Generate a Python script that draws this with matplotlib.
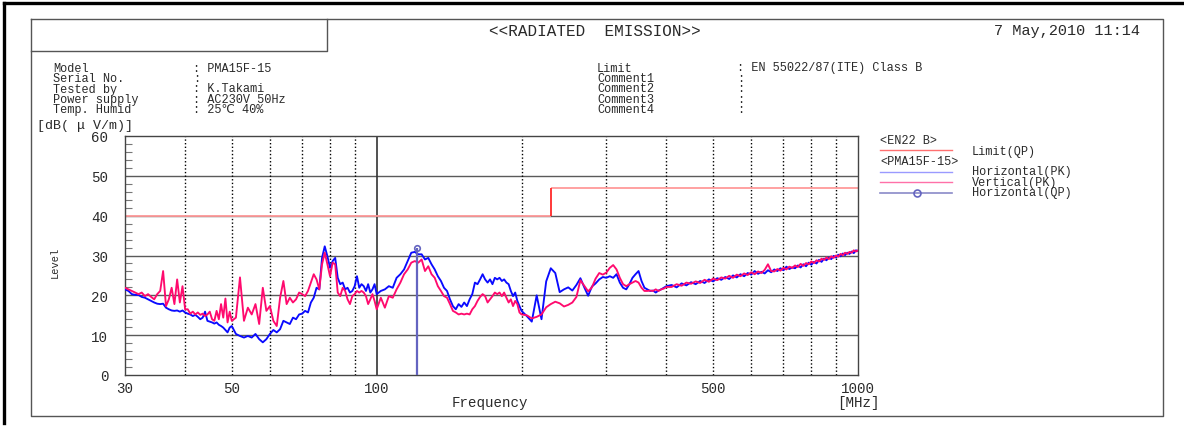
import matplotlib
matplotlib.use('Agg')
import matplotlib.pyplot as plt
from matplotlib.lines import Line2D
from matplotlib.ticker import FixedLocator, FixedFormatter, MultipleLocator, NullLocator

W, H = 1184, 427
plt.rcParams['font.family'] = ['Liberation Mono', 'DejaVu Sans Mono', 'DejaVu Sans']

# ---------------- data ----------------
freq_mhz = [30, 30.5, 31, 31.5, 32, 32.5, 33, 33.5, 34, 34.5, 35, 35.5, 36, 36.5, 37, 37.5,
            38, 38.5, 39, 39.5, 40, 40.5, 41, 41.5, 42, 42.5, 43, 43.5, 44, 44.5, 45, 45.5,
            46, 46.5, 47, 47.5, 48, 48.5, 49, 49.5, 50,
            51, 52, 53, 54, 55, 56, 57, 58, 59, 60, 61, 62, 63, 64, 65, 66, 67, 68, 69, 70,
            71, 72, 73, 74, 75, 76, 77, 78, 79, 80, 81, 82, 83, 84, 85, 86, 87, 88, 89, 90,
            91, 92, 93, 94, 95, 96, 97, 98, 99, 100,
            102, 104, 106, 108, 110, 112, 114, 116, 118, 120, 122, 124, 126, 128, 130,
            132, 134, 136, 138, 140, 142, 144, 146, 148, 150, 152, 154, 156, 158, 160,
            162, 164, 166, 168, 170, 172, 174, 176, 178, 180, 182, 184, 186, 188, 190,
            192, 194, 196, 198, 200,
            205, 210, 215, 220, 225, 230, 235, 240, 245, 250, 255, 260, 265, 270, 275,
            280, 285, 290, 295, 300, 305, 310, 315, 320, 325, 330, 335, 340, 345, 350,
            355, 360, 365, 370, 375, 380, 385, 390, 395, 400,
            410, 420, 430, 440, 450, 460, 470, 480, 490, 500, 510, 520, 530, 540, 550,
            560, 570, 580, 590, 600, 610, 620, 630, 640, 650, 660, 670, 680, 690, 700,
            710, 720, 730, 740, 750, 760, 770, 780, 790, 800, 810, 820, 830, 840, 850,
            860, 870, 880, 890, 900, 910, 920, 930, 940, 950, 960, 970, 980, 990, 1000]

horizontal_pk = [21.5, 21.1, 20.3, 20.1, 20.1, 19.6, 19.4, 19.0, 18.6, 18.2, 17.9, 17.8, 17.9, 16.9, 16.5, 16.2,
                 16.1, 16.2, 15.9, 16.2, 15.7, 15.4, 15.2, 14.8, 15.1, 14.6, 14.0, 14.4, 15.9, 13.6, 13.4, 13.2,
                 12.9, 13.2, 12.6, 12.3, 11.9, 11.3, 10.7, 11.9, 12.3,
                 10.3, 9.8, 9.4, 9.8, 9.4, 10.3, 9.0, 8.2, 9.0, 10.3, 11.3, 10.7, 11.5, 13.6, 13.2, 12.8, 14.4, 14.0, 15.2, 15.4,
                 16.1, 15.7, 18.2, 19.4, 21.9, 21.5, 29.4, 32.3, 29.8, 26.9, 28.6, 29.4, 24.4, 22.8, 23.2, 21.5, 21.9, 20.7, 21.1, 22.3,
                 24.8, 21.9, 22.8, 22.3, 21.1, 22.8, 20.7, 21.5, 22.8, 20.3,
                 21.1, 21.5, 22.3, 21.9, 24.4, 25.3, 26.5, 28.6, 30.7, 30.9, 30.3, 30.3, 29.0, 29.4, 27.8,
                 26.5, 24.8, 23.6, 21.9, 21.1, 19.0, 17.3, 16.5, 17.8, 17.1, 18.2, 17.3, 19.0, 20.3, 23.2,
                 22.8, 24.0, 25.3, 24.0, 23.2, 24.0, 22.8, 24.4, 24.0, 24.4, 23.6, 24.0, 23.2, 22.8, 21.1,
                 19.8, 20.7, 18.6, 17.3, 16.1,
                 14.8, 13.4, 20.0, 14.0, 23.5, 26.8, 25.6, 20.8, 21.5, 22.0, 21.2, 22.6, 24.3, 22.0, 19.9,
                 22.2, 23.0, 24.0, 24.6, 24.4, 24.8, 24.4, 25.3, 23.2, 21.9, 21.5, 22.8, 24.4, 25.3, 26.1,
                 23.6, 21.9, 21.5, 21.1, 21.2, 20.7, 21.2, 21.5, 21.9, 22.3,
                 22.6, 22.0, 23.0, 22.5, 23.3, 22.8, 23.6, 23.1, 24.0, 23.5, 24.3, 23.9, 24.6, 24.1, 25.0,
                 24.5, 25.3, 24.8, 25.6, 25.2, 26.1, 25.4, 25.9, 25.5, 26.3, 25.8, 26.5, 26.1, 26.8, 26.3,
                 27.2, 26.6, 27.0, 26.8, 27.5, 27.0, 27.8, 27.3, 28.2, 27.7, 28.4, 28.0, 28.9, 28.4, 29.2,
                 28.8, 29.5, 29.1, 29.9, 29.5, 30.2, 29.8, 30.5, 30.1, 30.7, 30.4, 31.0, 30.6, 31.3, 31.1]

vertical_pk = [21.9, 21.5, 21.1, 20.7, 20.3, 20.7, 19.8, 20.3, 19.6, 19.0, 20.3, 21.1, 26.1, 17.3, 19.0, 21.9,
               17.8, 24.0, 18.2, 22.3, 16.5, 16.5, 15.4, 15.9, 15.2, 15.7, 15.1, 15.4, 14.8, 15.2, 15.9, 14.0,
               13.6, 16.1, 14.0, 17.8, 14.4, 19.2, 13.2, 15.9, 13.6,
               14.4, 24.5, 13.6, 16.9, 15.2, 17.8, 12.8, 21.9, 16.1, 17.3, 13.6, 12.3, 19.4, 23.6, 17.8, 19.4, 18.2, 19.0, 20.7, 20.3,
               19.8, 21.1, 23.2, 25.3, 24.0, 21.5, 27.8, 30.7, 27.8, 24.8, 28.2, 27.8, 20.7, 19.8, 21.9, 21.1, 19.0, 17.8, 19.8, 20.3,
               21.1, 20.7, 21.1, 20.7, 19.8, 17.8, 19.0, 20.3, 18.6, 16.5,
               19.4, 16.9, 19.8, 19.4, 21.5, 23.2, 25.3, 26.5, 28.2, 28.6, 28.2, 29.0, 26.1, 27.3, 25.3,
               24.4, 22.3, 21.1, 19.8, 19.4, 17.8, 16.1, 15.7, 15.2, 15.4, 15.2, 15.4, 15.2, 16.5, 17.3,
               18.6, 19.6, 20.3, 19.8, 18.2, 19.0, 19.8, 20.7, 20.3, 20.7, 19.8, 20.7, 19.4, 18.2, 19.0,
               17.3, 18.6, 17.8, 15.7, 15.2,
               15.0, 14.2, 14.6, 15.2, 17.0, 17.8, 18.4, 18.0, 17.2, 17.6, 18.2, 19.6, 23.8, 22.4, 21.0,
               22.0, 24.2, 25.6, 25.2, 25.7, 26.9, 27.6, 26.5, 24.4, 22.8, 22.3, 22.8, 23.2, 23.6, 23.2,
               21.9, 21.1, 21.1, 21.2, 21.1, 21.5, 21.1, 21.5, 21.7, 22.1,
               22.1, 22.8, 22.4, 23.2, 22.9, 23.5, 23.1, 23.9, 23.4, 24.2, 23.8, 24.5, 24.2, 24.9, 24.4,
               25.2, 24.8, 25.5, 25.1, 25.8, 25.3, 26.0, 25.6, 26.4, 27.8, 26.1, 26.0, 26.6, 26.2, 26.9,
               26.5, 27.2, 26.9, 27.5, 27.1, 27.9, 27.4, 28.1, 27.8, 28.5, 28.1, 28.8, 28.5, 29.2, 28.9,
               29.5, 29.1, 29.8, 29.4, 30.0, 29.7, 30.4, 30.1, 30.7, 30.4, 30.9, 30.7, 31.3, 31.0, 31.3]

qp_freq = [121]
qp_level = [31.8]

limit_freq = [30, 230, 1000]
limit_level = [40, 47]

x_ticks = [30, 50, 100, 500, 1000]
x_tick_labels = ['30', '50', '100', '500', '1000']
y_ticks = [0, 10, 20, 30, 40, 50, 60]
y_grid = [10, 20, 30, 40, 50]
x_grid_dotted = [40, 50, 60, 70, 80, 90, 200, 300, 400, 500, 600, 700, 800, 900]
x_grid_solid = [100]

info_left = [('Model', ': PMA15F-15'), ('Serial No.', ':'), ('Tested by', ': K.Takami'),
             ('Power supply', ': AC230V 50Hz'), ('Temp. Humid', ': 25℃ 40%')]
info_right = [('Limit', ': EN 55022/87(ITE) Class B'), ('Comment1', ':'), ('Comment2', ':'),
              ('Comment3', ':'), ('Comment4', ':')]

# ---------------- colours ----------------
C_BLUE = '#0a0aff'
C_PINK = '#ff0a6e'
C_LIMIT = '#ff9a9a'
C_LIMIT_STEP = '#ff2a2a'
C_QP = '#6464c0'
C_TXT = '#2a2a2a'
C_GRID = '#5a5a5a'

fig = plt.figure(figsize=(W / 100, H / 100), dpi=100)
fig.patch.set_facecolor('white')

def fx(x):
    return x / W

def fy(y):
    return 1 - y / H

def fline(xs, ys, color='#444444', lw=1.0, **kw):
    fig.add_artist(Line2D([fx(v) for v in xs], [fy(v) for v in ys],
                          transform=fig.transFigure, color=color, lw=lw, **kw))

# frames
fline([4, W], [4, 4], color='black', lw=2.4)
fline([4, 4], [4, 424], color='black', lw=2.4)
fline([31, 1163, 1163, 31, 31], [20, 20, 417, 417, 20], color='#555555', lw=1.0)
fline([31, 327, 327], [52, 52, 20], color='#555555', lw=1.0)

FS = 10.2      # single-line texts
FS_ROW = 8.6   # stacked rows (info block, legend)
fig.text(fx(595), fy(31), '<<RADIATED  EMISSION>>', ha='center', va='center', fontsize=11.5, color=C_TXT)
fig.text(fx(1140), fy(31), '7 May,2010 11:14', ha='right', va='center', fontsize=11, color=C_TXT)

rows_y = [68.5, 79, 89.5, 100, 110.5]
for (lab, val), yy in zip(info_left, rows_y):
    fig.text(fx(53), fy(yy), lab, ha='left', va='center', fontsize=FS_ROW, color=C_TXT)
    fig.text(fx(193), fy(yy), val, ha='left', va='center', fontsize=FS_ROW, color=C_TXT)
for (lab, val), yy in zip(info_right, rows_y):
    fig.text(fx(597), fy(yy), lab, ha='left', va='center', fontsize=FS_ROW, color=C_TXT)
    fig.text(fx(737), fy(yy), val, ha='left', va='center', fontsize=FS_ROW, color=C_TXT)

fig.text(fx(37), fy(126), '[dB( μ V/m)]', ha='left', va='center', fontsize=9.6, color=C_TXT)
fig.text(fx(55), fy(262), 'Level', ha='center', va='center', rotation=90, fontsize=7.5, color=C_TXT)
fig.text(fx(490), fy(403), 'Frequency', ha='center', va='center', fontsize=FS, color=C_TXT)
fig.text(fx(858), fy(403), '[MHz]', ha='center', va='center', fontsize=FS, color=C_TXT)

# ---------------- axes ----------------
ax = fig.add_axes([fx(125), fy(376), (858 - 125) / W, (376 - 137) / H])
ax.set_xscale('log')
ax.set_xlim(30, 1000)
ax.set_ylim(0, 60)
ax.set_facecolor('white')

for v in y_grid:
    ax.axhline(v, color=C_GRID, lw=1.0, zorder=1)
for v in x_grid_dotted:
    ax.axvline(v, color='black', lw=1.0, linestyle=(0, (1, 1.6)), zorder=1)
for v in x_grid_solid:
    ax.axvline(v, color='#333333', lw=1.2, zorder=1)

ax.hlines(limit_level, limit_freq[:-1], limit_freq[1:], color=C_LIMIT, lw=1.3, zorder=2)
ax.vlines(limit_freq[1], limit_level[0], limit_level[1], color=C_LIMIT_STEP, lw=1.3, zorder=2)

ax.plot(freq_mhz, horizontal_pk, color=C_BLUE, lw=1.35, zorder=3)
ax.plot(freq_mhz, vertical_pk, color=C_PINK, lw=1.35, zorder=4)

ax.vlines(qp_freq, 0, qp_level, color=C_QP, lw=1.6, zorder=5)
ax.plot(qp_freq, qp_level, linestyle='none', marker='o', ms=4, mfc='none', mec=C_QP, mew=1.2, zorder=6)

ax.xaxis.set_major_locator(FixedLocator(x_ticks))
ax.xaxis.set_major_formatter(FixedFormatter(x_tick_labels))
ax.xaxis.set_minor_locator(NullLocator())
ax.yaxis.set_major_locator(FixedLocator(y_ticks))
ax.yaxis.set_minor_locator(MultipleLocator(2))
ax.tick_params(axis='x', which='major', length=0, pad=4, labelsize=FS, labelcolor=C_TXT)
ax.tick_params(axis='y', which='major', length=0, pad=12, labelsize=FS, labelcolor=C_TXT)
ax.tick_params(axis='y', which='minor', direction='in', length=5, width=0.8, color='#777777', left=True, right=False)
for s in ax.spines.values():
    s.set_color('#444444')
    s.set_linewidth(1.0)

# ---------------- legend ----------------
fig.text(fx(880), fy(141.5), '<EN22 B>', ha='left', va='center', fontsize=FS_ROW, color=C_TXT)
fline([880, 952], [151, 151], color='#ff7070', lw=1.0)
fig.text(fx(972), fy(151.5), 'Limit(QP)', ha='left', va='center', fontsize=FS_ROW, color=C_TXT)
fig.text(fx(880), fy(162), '<PMA15F-15>', ha='left', va='center', fontsize=FS_ROW, color=C_TXT)
fline([880, 952], [172.5, 172.5], color='#9a9aff', lw=1.0)
fig.text(fx(972), fy(172.5), 'Horizontal(PK)', ha='left', va='center', fontsize=FS_ROW, color=C_TXT)
fline([880, 952], [183, 183], color='#ff70a8', lw=1.0)
fig.text(fx(972), fy(183), 'Vertical(PK)', ha='left', va='center', fontsize=FS_ROW, color=C_TXT)
fline([880, 952], [193.5, 193.5], color='#8a8ac8', lw=1.2)
fline([917], [193.5], color='#6464c0', lw=0, marker='o', ms=5, mfc='none', mew=1.2)
fig.text(fx(972), fy(193.5), 'Horizontal(QP)', ha='left', va='center', fontsize=FS_ROW, color=C_TXT)

fig.savefig('out.png', dpi=100, facecolor='white')
